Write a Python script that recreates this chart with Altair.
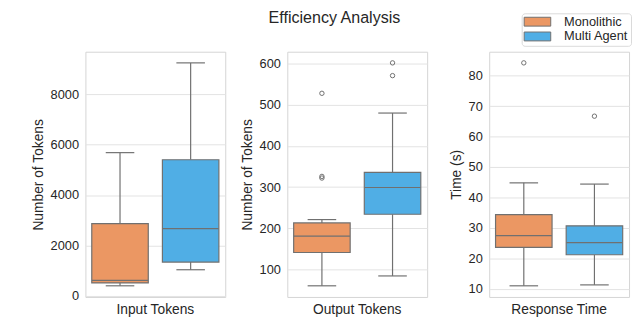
import altair as alt
import pandas as pd

metrics = ["Input Tokens", "Output Tokens", "Response Time"]
groups = ["Monolithic", "Multi Agent"]
y_titles = ["Number of Tokens", "Number of Tokens", "Time (s)"]

# box summary per metric: [Monolithic, Multi Agent]
whisker_low = [[394, 1032], [60, 84], [11.0, 11.3]]
q1 = [[508, 1338], [141, 234], [23.6, 21.2]]
median = [[612, 2664], [181, 299], [27.5, 25.2]]
q3 = [[2867, 5402], [213, 336], [34.4, 30.7]]
whisker_high = [[5684, 9250], [221, 480], [44.8, 44.4]]
outliers = [[[], []], [[322, 326, 528], [571, 602]], [[84.2], [66.7]]]

y_limits = [[-49, 9693], [32.9, 629.1], [7.34, 87.86]]
y_ticks = [[0, 2000, 4000, 6000, 8000],
           [100, 200, 300, 400, 500, 600],
           [10, 20, 30, 40, 50, 60, 70, 80]]

COLORS = ["#EB9763", "#50AEE5"]
EDGE = "#707070"
TEXT = "#262626"
FONT = "Liberation Sans"

box_rows, out_rows = [], []
for i, m in enumerate(metrics):
    for j, g in enumerate(groups):
        box_rows.append(dict(metric=m, group=g, low=whisker_low[i][j], q1=q1[i][j],
                             med=median[i][j], q3=q3[i][j], high=whisker_high[i][j]))
        for v in outliers[i][j]:
            out_rows.append(dict(metric=m, group=g, value=v))
box_df = pd.DataFrame(box_rows)
out_df = pd.DataFrame(out_rows)

LEGEND_PATH = "M-1,-0.75H3.5V0.75H-1Z"
W, H = 142, 249


def panel(i):
    m = metrics[i]
    bdf = box_df[box_df.metric == m]
    odf = out_df[out_df.metric == m] if len(out_df) else out_df
    yscale = alt.Scale(domain=y_limits[i], nice=False, zero=False, padding=0)
    yax = alt.Axis(title=y_titles[i], values=y_ticks[i], format="d", grid=True, ticks=False,
                   domain=False, labelFontSize=13, titleFontSize=14, labelColor=TEXT,
                   titleColor=TEXT, titleFontWeight="normal", labelPadding=7,
                   titlePadding=5, gridColor="#e3e3e3", labelFont=FONT, titleFont=FONT)
    x = alt.X("metric:N", title=None,
              scale=alt.Scale(paddingInner=0, paddingOuter=0.05),
              axis=alt.Axis(labelAngle=0, ticks=False, domain=False, labelFontSize=14,
                            labelPadding=6, labelColor=TEXT, grid=False, labelFont=FONT))
    xo = alt.XOffset("group:N", scale=alt.Scale(domain=groups, paddingInner=0.2, paddingOuter=0))
    base = alt.Chart(bdf)
    lower = base.mark_rule(color=EDGE, strokeWidth=1.2).encode(
        x=x, xOffset=xo, y=alt.Y("low:Q", scale=yscale, axis=yax), y2="q1:Q")
    upper = base.mark_rule(color=EDGE, strokeWidth=1.2).encode(
        x=x, xOffset=xo, y=alt.Y("q3:Q", scale=yscale, axis=yax), y2="high:Q")
    legend = None
    if i == 0:
        legend = alt.Legend(title=None, orient="none", legendX=443, legendY=-39,
                            symbolType=LEGEND_PATH, symbolSize=144, symbolStrokeColor=EDGE,
                            symbolStrokeWidth=1, symbolOpacity=1, labelFontSize=13,
                            labelFont=FONT, labelColor=TEXT, labelOffset=28, padding=2,
                            rowPadding=1, strokeColor="#d9d9d9", cornerRadius=3,
                            fillColor="white")
    box = base.mark_bar(stroke=EDGE, strokeWidth=1.2, opacity=1).encode(
        x=x, xOffset=xo, y=alt.Y("q1:Q", scale=yscale, axis=yax), y2="q3:Q",
        color=alt.Color("group:N", scale=alt.Scale(domain=groups, range=COLORS), legend=legend))
    med = base.mark_tick(color=EDGE, size=57, thickness=1.2, opacity=1).encode(
        x=x, xOffset=xo, y=alt.Y("med:Q", scale=yscale, axis=yax))
    cap_lo = base.mark_tick(color=EDGE, size=29, thickness=1.2, opacity=1).encode(
        x=x, xOffset=xo, y=alt.Y("low:Q", scale=yscale, axis=yax))
    cap_hi = base.mark_tick(color=EDGE, size=29, thickness=1.2, opacity=1).encode(
        x=x, xOffset=xo, y=alt.Y("high:Q", scale=yscale, axis=yax))
    layers = [lower, upper, box, med, cap_lo, cap_hi]
    if len(odf):
        pts = alt.Chart(odf).mark_point(shape="circle", filled=False, size=20, color=EDGE,
                                        strokeWidth=1, opacity=1).encode(
            x=x, xOffset=xo, y=alt.Y("value:Q", scale=yscale, axis=yax))
        layers.append(pts)
    return alt.layer(*layers).properties(width=W, height=H)


chart = alt.hconcat(panel(0), panel(1), panel(2), spacing=63, bounds="flush").resolve_scale(
    x="independent", y="independent", color="shared", xOffset="independent"
).properties(
    title=alt.TitleParams("Efficiency Analysis", anchor="start", dx=186, fontSize=16.3,
                          fontWeight="normal", color=TEXT, font=FONT, frame="group", offset=-14),
    padding={"left": 22.6, "top": 0, "right": 0, "bottom": 0},
    background="white",
).configure_view(stroke="#d4d4d4", strokeWidth=1)

chart.save("out.html", embed_options={"renderer": "svg", "actions": False})
